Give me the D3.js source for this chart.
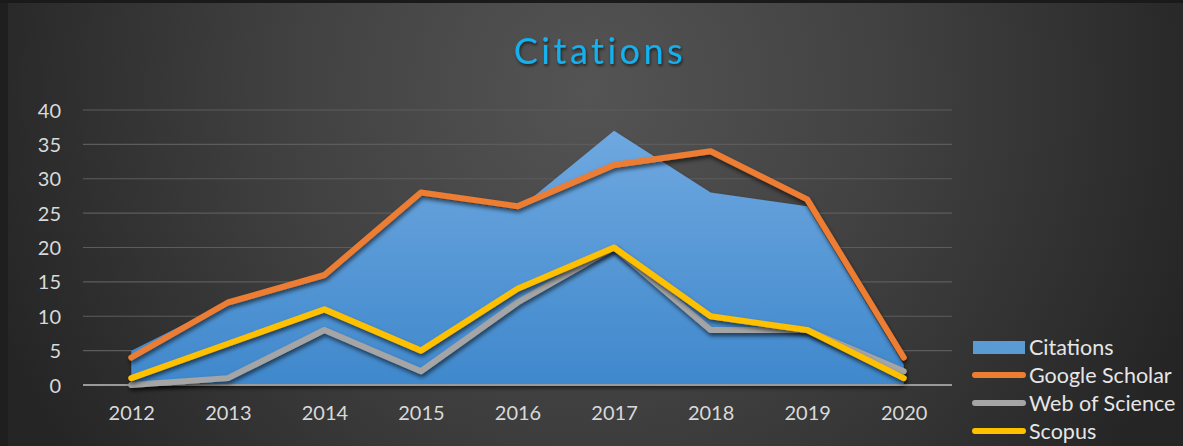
<!DOCTYPE html>
<html>
<head>
<meta charset="utf-8">
<script src="https://cdn.jsdelivr.net/npm/d3@7/dist/d3.min.js"></script>
<style>
  html, body { margin: 0; padding: 0; background: #222; }
  svg { display: block; }
  text { font-family: Lato, "Open Sans", sans-serif; }
</style>
</head>
<body>
<svg id="chart" width="1183" height="446"></svg>
<script>
const years = ['2012', '2013', '2014', '2015', '2016', '2017', '2018', '2019', '2020']
const citations = [5, 12, 16, 27.5, 25.5, 37, 28, 26, 3]
const googleScholar = [4, 12, 16, 28, 26, 32, 34, 27, 4]
const webOfScience = [0, 1, 8, 2, 12, 20, 8, 8, 2]
const scopus = [1, 6, 11, 5, 14, 20, 10, 8, 1]
const yTicks = [0, 5, 10, 15, 20, 25, 30, 35, 40]

const lineSeries = [
  { name: 'Google Scholar', values: googleScholar, color: '#ed7d31' },
  { name: 'Web of Science', values: webOfScience, color: '#a5a5a5' },
  { name: 'Scopus', values: scopus, color: '#ffc000' }
]

const W = 1183, H = 446
const m = { left: 83, right: 231, top: 110, bottom: 61 }
const svg = d3.select('#chart')
const defs = svg.append('defs')

// background radial gradient
const bg = defs.append('radialGradient').attr('id', 'bg')
    .attr('gradientUnits', 'userSpaceOnUse')
    .attr('cx', 590).attr('cy', 90).attr('r', 640)
bg.append('stop').attr('offset', 0).attr('stop-color', '#545454')
bg.append('stop').attr('offset', 0.45).attr('stop-color', '#424242')
bg.append('stop').attr('offset', 1).attr('stop-color', '#252525')

const areaGrad = defs.append('linearGradient').attr('id', 'areaGrad')
    .attr('x1', 0).attr('y1', 0).attr('x2', 0).attr('y2', 1)
areaGrad.append('stop').attr('offset', 0).attr('stop-color', '#6fa8e0')
areaGrad.append('stop').attr('offset', 1).attr('stop-color', '#3f88cc')

const shadow = defs.append('filter').attr('id', 'shadow')
    .attr('x', '-10%').attr('y', '-10%').attr('width', '120%').attr('height', '130%')
shadow.append('feDropShadow').attr('dx', 1).attr('dy', 3).attr('stdDeviation', 2)
    .attr('flood-color', '#000').attr('flood-opacity', 0.6)

const titleShadow = defs.append('filter').attr('id', 'tshadow')
titleShadow.append('feDropShadow').attr('dx', 1).attr('dy', 2).attr('stdDeviation', 1.5)
    .attr('flood-color', '#000').attr('flood-opacity', 0.6)

svg.append('rect').attr('width', W).attr('height', H).attr('fill', 'url(#bg)')
svg.append('rect').attr('x', 0).attr('y', 0).attr('width', 8).attr('height', H).attr('fill', '#1f1f1f')
svg.append('rect').attr('x', 0).attr('y', 0).attr('width', W).attr('height', 3).attr('fill', '#1a1a1a')

const x = d3.scalePoint().domain(years)
    .range([m.left, W - m.right]).padding(0.5)
const y = d3.scaleLinear().domain([0, 40]).range([H - m.bottom, m.top])

// gridlines
svg.append('g').selectAll('line').data(yTicks.filter(t => t > 0)).enter().append('line')
    .attr('x1', m.left).attr('x2', W - m.right)
    .attr('y1', d => y(d)).attr('y2', d => y(d))
    .attr('stroke', '#5c5c5c').attr('stroke-width', 1.2)

// y axis labels
const yAxis = svg.append('g').attr('transform', 'translate(' + (m.left - 22) + ',0)')
    .call(d3.axisLeft(y).tickValues(yTicks).tickSize(0).tickPadding(0))
yAxis.select('.domain').remove()
yAxis.selectAll('text').attr('fill', '#d9d9d9').style('font-size', '20px')
    .attr('dy', '0.35em')

// x axis labels
const xAxis = svg.append('g').attr('transform', 'translate(0,' + (H - m.bottom + 20) + ')')
    .call(d3.axisBottom(x).tickSize(0).tickPadding(0))
xAxis.select('.domain').remove()
xAxis.selectAll('text').attr('fill', '#d9d9d9').style('font-size', '20px').attr('dy', '0.75em')

// area
const area = d3.area()
    .x((d, i) => x(years[i]))
    .y0(y(0))
    .y1(d => y(d))
svg.append('path').datum(citations)
    .attr('d', area)
    .attr('fill', 'url(#areaGrad)')
    .attr('filter', 'url(#shadow)')

// baseline
svg.append('line')
    .attr('x1', m.left).attr('x2', W - m.right)
    .attr('y1', y(0)).attr('y2', y(0))
    .attr('stroke', '#9a9a9a').attr('stroke-width', 2)

// lines
const line = d3.line().x((d, i) => x(years[i])).y(d => y(d))
svg.append('g').selectAll('path').data(lineSeries).enter().append('path')
    .attr('d', d => line(d.values))
    .attr('fill', 'none')
    .attr('stroke', d => d.color)
    .attr('stroke-width', 6)
    .attr('stroke-linecap', 'round')
    .attr('stroke-linejoin', 'round')
    .attr('filter', 'url(#shadow)')

// title
svg.append('text')
    .attr('x', 600).attr('y', 64)
    .attr('text-anchor', 'middle')
    .attr('fill', '#12b0ee')
    .style('font-size', '36px')
    .style('letter-spacing', '3.5px')
    .attr('filter', 'url(#tshadow)')
    .text('Citations')

// legend
const legendItems = [{ name: 'Citations', area: true }].concat(lineSeries)
const lg = svg.append('g').selectAll('g').data(legendItems).enter().append('g')
    .attr('transform', (d, i) => 'translate(973,' + (347 + i * 28) + ')')
lg.filter(d => d.area).append('rect')
    .attr('x', 0).attr('y', -6).attr('width', 52).attr('height', 13)
    .attr('fill', '#5b9bd5')
lg.filter(d => !d.area).append('line')
    .attr('x1', 2).attr('x2', 50).attr('y1', 0).attr('y2', 0)
    .attr('stroke', d => d.color).attr('stroke-width', 6)
    .attr('stroke-linecap', 'round')
lg.append('text')
    .attr('x', 56).attr('dy', '0.35em')
    .attr('fill', '#e6e6e6')
    .style('font-size', '21.5px')
    .text(d => d.name)
</script>
</body>
</html>
